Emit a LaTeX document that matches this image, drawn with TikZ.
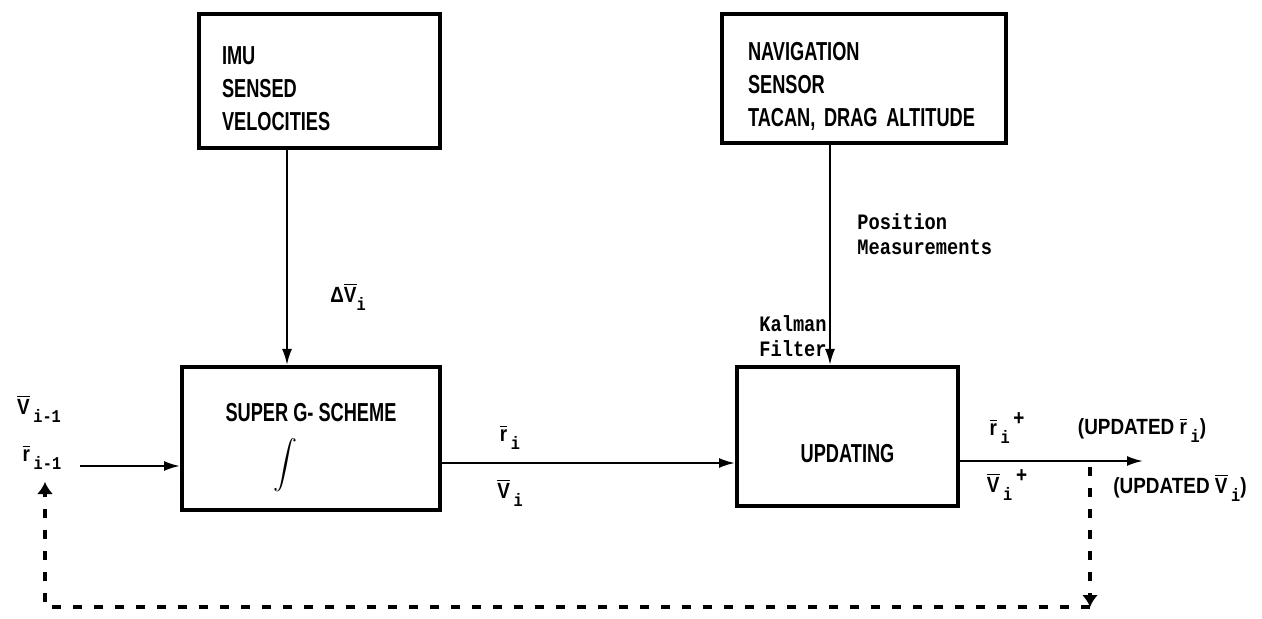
\documentclass[tikz,border=0pt]{standalone}
\usepackage{amsmath}
\usepackage{fontspec}
\setmainfont{Liberation Sans}[FakeStretch=0.7]
\newfontfamily\nvMonoFam{Liberation Mono}[FakeStretch=0.85]
\newfontfamily\nvLabFam{Liberation Sans}[FakeStretch=0.86]
\usetikzlibrary{arrows.meta,positioning}
\newcommand{\nvBoxFont}{\bfseries\fontsize{13}{16.5}\selectfont}
\newcommand{\nvLabFont}{\nvLabFam\bfseries\fontsize{11}{13}\selectfont}
\newcommand{\nvMonoFont}{\nvMonoFam\bfseries\fontsize{11}{12.5}\selectfont}
%% overbarred vector letter and its lowered index, typewriter style
\newcommand{\nvBar}[1]{$\overline{\mbox{#1}}$}
\newcommand{\nvSub}[1]{\raisebox{-4pt}{\nvMonoFam\bfseries\fontsize{9}{10}\selectfont #1}}
\newcommand{\nvSup}{\raisebox{5pt}{+}}
\tikzset{
  %% heavy-ruled blocks of the navigation loop
  nvbox/.style={draw=black, line width=2pt, fill=white, align=left,
    font=\nvBoxFont, inner sep=0pt},
  nvflow/.style={-{Latex[length=8pt,width=5pt]}, draw=black, line width=1.1pt},
  %% feedback of the updated state, drawn broken
  nvfeed/.style={draw=black, line width=2.4pt, dash pattern=on 4.5pt off 6pt},
  nvfeedtip/.style={nvfeed, -{Latex[length=6pt,width=8pt]}},
  nvlab/.style={font=\nvLabFont, inner sep=1pt},
  nvmono/.style={font=\nvMonoFont, inner sep=1pt, align=left},
}

\begin{document}
\begin{tikzpicture}[x=0.5pt, y=-0.5pt]
\useasboundingbox (0,0) rectangle (1262,619);

%% --- blocks --------------------------------------------------------
\node[nvbox, text width=97.5pt, inner xsep=11.5pt, minimum height=67pt]
  (imu) at (319.5,81) {\rule{0pt}{17pt}IMU\\SENSED\\VELOCITIES};

\node[nvbox, text width=116pt, inner xsep=13pt, minimum height=64.5pt]
  (nav) at (864,78.5) {\rule{0pt}{17pt}NAVIGATION\\SENSOR\\TACAN, DRAG ALTITUDE};

\node[nvbox, minimum width=129pt, minimum height=71.5pt]
  (supg) at (311,438.5)
  {\rule{0pt}{18pt}SUPER G- SCHEME\\[8pt]
   \hspace*{24pt}$\displaystyle\int$};

\node[nvbox, minimum width=110.5pt, minimum height=69.5pt,
      text height=26pt, text depth=0pt]
  (upd) at (847.5,436.5) {UPDATING};

%% --- measurement inputs ---------------------------------------------
\coordinate (dvtap) at ([xshift=-16.25pt]imu.south);
\coordinate (pmtap) at ([xshift=-17pt]nav.south);
\draw[nvflow] (dvtap) -- (dvtap |- supg.north);
\draw[nvflow] (pmtap) -- (pmtap |- upd.north);

\node[nvlab] (dv) at (348,297) {Δ\nvBar{V}\nvSub{i}};
\node[nvmono, anchor=west] (posm) at (855,234) {Position\\Measurements};
\node[nvmono, align=center] (kal) at (793,336) {Kalman\\Filter};

%% --- state flow -----------------------------------------------------
\coordinate (inl) at (80,466);
\coordinate (mids) at (supg.east |- 0,463);
\coordinate (outend) at (1143,461);
\draw[nvflow] (inl) -- (inl -| supg.west);
\draw[nvflow] (mids) -- (mids -| upd.west);
\draw[nvflow] (outend -| upd.east) -- (outend);

\node[nvlab] (vprev) at (39,409) {\nvBar{V}\,\nvSub{i-1}};
\node[nvlab] (rprev) at (42,457) {\nvBar{r}\,\nvSub{i-1}};
\node[nvlab] (rcur) at (510,437) {\nvBar{r}\,\nvSub{i}};
\node[nvlab] (vcur) at (510,493) {\nvBar{V}\,\nvSub{i}};
\node[nvlab] (rnew) at (1007,428) {\nvBar{r}\,\nvSub{i}\,\nvSup};
\node[nvlab] (vnew) at (1007,485) {\nvBar{V}\,\nvSub{i}\,\nvSup};
\node[nvlab] (rupd) at (1142,430) {(UPDATED \nvBar{r}\,\nvSub{i})};
\node[nvlab] (vupd) at (1180,488) {(UPDATED \nvBar{V}\,\nvSub{i})};

%% --- feedback to the next step ---------------------------------------
\coordinate (fbtap) at (1090,467);
\coordinate (fbcorner) at (1090,607);
\coordinate (fbleft) at (45,607);
\coordinate (fbend) at (45,482);
\draw[nvfeedtip] (fbtap) -- (fbcorner);
\draw[nvfeedtip] (fbcorner) -- (fbleft) -- (fbend);

\end{tikzpicture}
\end{document}
